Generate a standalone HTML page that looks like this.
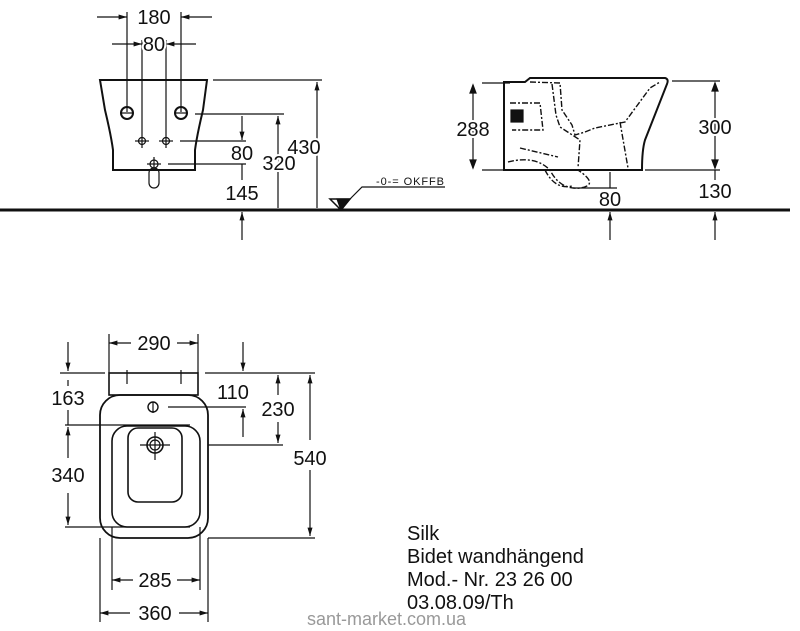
<!DOCTYPE html>
<html><head><meta charset="utf-8"><style>
html,body{margin:0;padding:0;background:#fff;}
svg{display:block;}
text{font-family:"Liberation Sans",sans-serif;fill:#111;}
</style></head><body>
<svg width="800" height="631" viewBox="0 0 800 631" xmlns="http://www.w3.org/2000/svg">
<defs>
<marker id="a" viewBox="0 0 10 10" refX="10" refY="5" markerWidth="7" markerHeight="7" orient="auto-start-reverse"><path d="M0,2 L10,5 L0,8 z" fill="#111"/></marker>
</defs>
<g stroke="#111" fill="none" stroke-width="1.2">
<line x1="0" y1="210" x2="790" y2="210" stroke-width="3"/>
<path d="M100,80 L207,80 L203,110 Q197,135 195,150 L195,170 L113,170 L113,150 Q111,135 105,110 Z" stroke-width="2"/>
<circle cx="127" cy="113" r="6" stroke-width="2"/><circle cx="181" cy="113" r="6" stroke-width="2"/>
<circle cx="142" cy="141" r="3.5"/><circle cx="166" cy="141" r="3.5"/><circle cx="154" cy="164" r="4"/>
<rect x="149" y="168" width="10" height="20" rx="5"/>
<line x1="127" y1="12" x2="127" y2="112"/><line x1="181" y1="12" x2="181" y2="112"/>
<line x1="97" y1="17" x2="127" y2="17" marker-end="url(#a)"/><line x1="212" y1="17" x2="181" y2="17" marker-end="url(#a)"/>
<line x1="142" y1="40" x2="142" y2="148"/><line x1="166" y1="40" x2="166" y2="148"/>
<line x1="112" y1="44" x2="142" y2="44" marker-end="url(#a)"/><line x1="196" y1="44" x2="166" y2="44" marker-end="url(#a)"/>
<line x1="120" y1="113" x2="134" y2="113"/><line x1="174" y1="113" x2="188" y2="113"/>
<line x1="135" y1="141" x2="149" y2="141"/><line x1="159" y1="141" x2="173" y2="141"/>
<line x1="147" y1="164" x2="161" y2="164"/><line x1="154" y1="157" x2="154" y2="171"/>
<line x1="213" y1="80" x2="322" y2="80"/>
<line x1="317" y1="208" x2="317" y2="82" marker-end="url(#a)"/>
<line x1="195" y1="114" x2="284" y2="114"/>
<line x1="278" y1="208" x2="278" y2="116" marker-end="url(#a)"/>
<line x1="180" y1="141" x2="246" y2="141"/>
<line x1="168" y1="164" x2="246" y2="164"/>
<line x1="242" y1="116" x2="242" y2="140" marker-end="url(#a)"/>
<line x1="242" y1="164" x2="242" y2="180"/>
<line x1="242" y1="240" x2="242" y2="212" marker-end="url(#a)"/>
<path d="M330,199 L350,199 L341,210 Z" stroke-width="1.5"/><path d="M337,199 L350,199 L341,210 Z" fill="#111"/>
<polyline points="350,199 362,187 445,187"/>
<path d="M504,170 L504,82 L525,82 L530,78 L665,78 Q669,79 667,84 L645,140 Q642,150 642,170 Z" stroke-width="2"/>
<g stroke-dasharray="6,2,2,2" stroke-width="1.4">
<path d="M530,82 L560,83 L562,110 L572,125 L575,135 L585,132 L595,128 L625,122 L650,88 L660,82"/>
<path d="M552,84 L556,115 L560,127 L580,140 L578,168"/>
<path d="M620,122 L628,168"/>
<path d="M510,103 L540,103 L543,130 L512,130"/>
<path d="M520,148 L558,157"/>
<path d="M508,162 Q535,155 550,170 Q560,190 580,188 Q600,185 578,170"/>
<path d="M545,170 Q555,190 572,186"/>
</g>
<rect x="511" y="110" width="12" height="12" fill="#111"/>
<line x1="482" y1="83" x2="510" y2="83"/><line x1="482" y1="170" x2="504" y2="170"/>
<line x1="473" y1="85" x2="473" y2="168"/>
<path d="M473,85 l-3,8 h6 z" fill="#111"/><path d="M473,168 l-3,-8 h6 z" fill="#111"/>
<line x1="672" y1="81" x2="720" y2="81"/><line x1="645" y1="170" x2="720" y2="170"/>
<line x1="715" y1="83" x2="715" y2="168"/>
<path d="M715,83 l-3,8 h6 z" fill="#111"/><path d="M715,168 l-3,-8 h6 z" fill="#111"/>
<line x1="715" y1="170" x2="715" y2="180"/>
<line x1="715" y1="240" x2="715" y2="212" marker-end="url(#a)"/>
<line x1="610" y1="172" x2="610" y2="188"/><line x1="573" y1="188" x2="617" y2="188"/>
<line x1="610" y1="240" x2="610" y2="212" marker-end="url(#a)"/>
<rect x="109" y="373" width="89" height="22" stroke-width="1.6"/>
<line x1="127" y1="370" x2="127" y2="384"/><line x1="181" y1="370" x2="181" y2="384"/>
<rect x="100" y="395" width="108" height="143" rx="20" stroke-width="1.8"/>
<rect x="112" y="426" width="88" height="101" rx="15" stroke-width="1.6"/>
<rect x="128" y="428" width="54" height="74" rx="10" stroke-width="1.6"/>
<circle cx="155" cy="445" r="8" stroke-width="1.6"/><circle cx="155" cy="445" r="5"/>
<line x1="140" y1="445" x2="170" y2="445"/><line x1="155" y1="432" x2="155" y2="460"/>
<circle cx="153" cy="407" r="5" stroke-width="1.4"/><line x1="153" y1="402" x2="153" y2="413"/>
<line x1="109" y1="334" x2="109" y2="373"/><line x1="198" y1="334" x2="198" y2="373"/>
<line x1="131" y1="343" x2="109" y2="343" marker-end="url(#a)"/><line x1="177" y1="343" x2="198" y2="343" marker-end="url(#a)"/>
<line x1="60" y1="373" x2="105" y2="373"/>
<line x1="68" y1="342" x2="68" y2="371" marker-end="url(#a)"/>
<line x1="68" y1="380" x2="68" y2="386"/><line x1="68" y1="410" x2="68" y2="425"/>
<line x1="65" y1="425" x2="190" y2="425"/>
<line x1="68" y1="458" x2="68" y2="427" marker-end="url(#a)"/>
<line x1="68" y1="493" x2="68" y2="525" marker-end="url(#a)"/>
<line x1="65" y1="527" x2="190" y2="527"/>
<line x1="205" y1="373" x2="315" y2="373"/>
<line x1="243" y1="342" x2="243" y2="371" marker-end="url(#a)"/>
<line x1="243" y1="437" x2="243" y2="409" marker-end="url(#a)"/>
<line x1="168" y1="407" x2="246" y2="407"/>
<line x1="278" y1="395" x2="278" y2="375" marker-end="url(#a)"/>
<line x1="278" y1="422" x2="278" y2="443" marker-end="url(#a)"/>
<line x1="208" y1="445" x2="283" y2="445"/>
<line x1="310" y1="440" x2="310" y2="375" marker-end="url(#a)"/>
<line x1="310" y1="470" x2="310" y2="536" marker-end="url(#a)"/>
<line x1="208" y1="538" x2="315" y2="538"/>
<line x1="112" y1="527" x2="112" y2="590"/><line x1="200" y1="527" x2="200" y2="590"/>
<line x1="100" y1="538" x2="100" y2="622"/><line x1="208" y1="538" x2="208" y2="622"/>
<line x1="133" y1="580" x2="112" y2="580" marker-end="url(#a)"/><line x1="177" y1="580" x2="200" y2="580" marker-end="url(#a)"/>
<line x1="130" y1="613" x2="100" y2="613" marker-end="url(#a)"/><line x1="179" y1="613" x2="208" y2="613" marker-end="url(#a)"/>
</g>
<g font-size="20" text-anchor="middle">
<text x="154" y="24" stroke="#fff" stroke-width="4" paint-order="stroke">180</text>
<text x="154" y="51" stroke="#fff" stroke-width="4" paint-order="stroke">80</text>
<text x="304" y="154" stroke="#fff" stroke-width="4" paint-order="stroke">430</text>
<text x="279" y="170" stroke="#fff" stroke-width="4" paint-order="stroke">320</text>
<text x="242" y="160" stroke="#fff" stroke-width="4" paint-order="stroke">80</text>
<text x="242" y="200" stroke="#fff" stroke-width="4" paint-order="stroke">145</text>
<text x="473" y="136" stroke="#fff" stroke-width="4" paint-order="stroke">288</text>
<text x="715" y="134" stroke="#fff" stroke-width="4" paint-order="stroke">300</text>
<text x="715" y="198" stroke="#fff" stroke-width="4" paint-order="stroke">130</text>
<text x="610" y="206" stroke="#fff" stroke-width="4" paint-order="stroke">80</text>
<text x="154" y="350">290</text>
<text x="68" y="405">163</text>
<text x="68" y="482">340</text>
<text x="233" y="399">110</text>
<text x="278" y="416" stroke="#fff" stroke-width="4" paint-order="stroke">230</text>
<text x="310" y="465" stroke="#fff" stroke-width="4" paint-order="stroke">540</text>
<text x="155" y="587">285</text>
<text x="155" y="620">360</text>
</g>
<text x="376" y="185" font-size="11" textLength="68">-0-=  OKFFB</text>
<g font-size="20">
<text x="407" y="540">Silk</text>
<text x="407" y="563">Bidet wandhängend</text>
<text x="407" y="586">Mod.- Nr. 23 26 00</text>
<text x="407" y="609">03.08.09/Th</text>
</g>
<text x="307" y="625" font-size="18" style="fill:#999">sant-market.com.ua</text>
</svg>
</body></html>
